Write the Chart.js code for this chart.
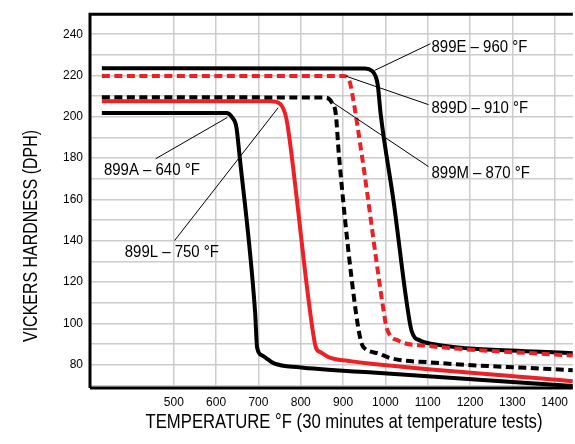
<!DOCTYPE html>
<html><head><meta charset="utf-8">
<script src="https://cdn.jsdelivr.net/npm/chart.js@4"></script>
<style>html,body{margin:0;padding:0;background:#fff}</style>
</head><body>
<canvas id="c" width="575" height="444"></canvas>
<script>
// ---- data (temperature °F, hardness DPH) ----
const temp899A = [330, 624, 638, 648, 655, 692, 697, 709, 737, 796, 961, 1443];
const hard899A = [201.8, 201.8, 199.7, 194.9, 182.0, 105.9, 88.2, 84.4, 80.6, 78.7, 76.3, 69.7];

const temp899L = [330, 730, 751, 765, 772, 822, 836, 848, 867, 921, 961, 1443];
const hard899L = [207.5, 207.5, 206.3, 200.1, 191.6, 105.9, 88.2, 85.9, 83.5, 81.6, 80.6, 72.0];

const temp899M = [330, 859, 874, 883, 890, 930, 944, 953, 984, 1015, 1107, 1443];
const hard899M = [209.5, 209.3, 206.8, 201.1, 182.0, 105.9, 90.1, 87.6, 85.4, 83.0, 81.1, 77.3];

const temp899D = [330, 902, 916, 921, 944, 996, 1003, 1031, 1095, 1443];
const hard899D = [219.8, 219.8, 216.8, 212.0, 182.0, 105.9, 97.8, 91.6, 89.2, 84.4];

const temp899E = [330, 952, 968, 977, 982, 989, 1020, 1050, 1062, 1083, 1107, 1443];
const hard899E = [223.5, 223.4, 222.3, 219.6, 215.4, 201.1, 158.2, 110.6, 96.3, 91.6, 90.2, 85.5];

// axis ticks
const xTickLabels = [500, 600, 700, 800, 900, 1000, 1100, 1200, 1300, 1400];
const yTickLabels = [80, 100, 120, 140, 160, 180, 200, 220, 240];
const yGridValues = [70, 80, 90, 100, 110, 120, 130, 140, 150, 160, 170, 180, 190, 200, 210, 220, 230, 240];

// callouts
const annoText  = ['899E – 960 °F', '899D – 910 °F', '899M – 870 °F', '899A – 640 °F', '899L – 750 °F'];
const annoFromT = [974.8, 906.6, 866.6, 626.6, 746.6];
const annoFromV = [222.5, 219.7, 208.2, 199.7, 204.4];
const annoToT   = [1106.6, 1101.9, 1101.9, 457.2, 501.9];
const annoToV   = [235.4, 205.9, 175.9, 179.7, 140.1];
const annoTextT = [1109, 1109, 1109, 335, 384.2];
const annoTextV = [233.5, 204.0, 172.5, 174.0, 134.4];

const xTitle = 'TEMPERATURE °F (30 minutes at temperature tests)';
const yTitle = 'VICKERS HARDNESS (DPH)';

const RED = '#ec2127';
const REG = '"Liberation Sans", Arial, sans-serif';

function pts(t, v) { return t.map((x, i) => ({x: x, y: v[i]})); }

function ds(label, t, v, color, dashed, order) {
  return {
    label, data: pts(t, v), borderColor: color, borderWidth: 4,
    borderDash: dashed ? [8, 4.5] : [], borderCapStyle: 'butt', borderJoinStyle: 'round',
    pointRadius: 0, fill: false, cubicInterpolationMode: 'monotone', order
  };
}

// draw text horizontally condensed (to mimic a condensed typeface)
function condensedText(ctx, text, x, y, squeeze, align) {
  const w = ctx.measureText(text).width * squeeze;
  ctx.save();
  ctx.translate(align === 'center' ? x - w / 2 : x, y);
  ctx.scale(squeeze, 1);
  ctx.textAlign = 'left';
  ctx.fillText(text, 0, 0);
  ctx.restore();
}

const framePlugin = {
  id: 'frame',
  afterDatasetsDraw(chart) {
    const {ctx, chartArea: a, scales: {x, y}} = chart;
    ctx.save();
    // callouts
    ctx.strokeStyle = '#000'; ctx.lineWidth = 1;
    ctx.fillStyle = '#000';
    ctx.font = '17px ' + REG;
    ctx.textBaseline = 'middle';
    for (let i = 0; i < annoText.length; i++) {
      ctx.beginPath();
      ctx.moveTo(x.getPixelForValue(annoFromT[i]), y.getPixelForValue(annoFromV[i]));
      ctx.lineTo(x.getPixelForValue(annoToT[i]), y.getPixelForValue(annoToV[i]));
      ctx.stroke();
      condensedText(ctx, annoText[i], x.getPixelForValue(annoTextT[i]), y.getPixelForValue(annoTextV[i]), 0.88, 'left');
    }
    // frame
    ctx.lineWidth = 3;
    ctx.beginPath();
    ctx.moveTo(a.left, a.bottom); ctx.lineTo(a.left, a.top); ctx.lineTo(a.right, a.top);
    ctx.moveTo(a.left, a.bottom); ctx.lineTo(a.right, a.bottom);
    ctx.stroke();
    // axis titles
    ctx.font = '21px ' + REG;
    ctx.textBaseline = 'alphabetic';
    condensedText(ctx, xTitle, 344, 428, 0.795, 'center');
    ctx.translate(37, 236);
    ctx.rotate(-Math.PI / 2);
    condensedText(ctx, yTitle, 0, 0, 0.76, 'center');
    ctx.restore();
  }
};

new Chart(document.getElementById('c'), {
  type: 'line',
  data: {
    datasets: [
      ds('899A – 640 °F', temp899A, hard899A, '#000', false, 5),
      ds('899L – 750 °F', temp899L, hard899L, RED, false, 4),
      ds('899M – 870 °F', temp899M, hard899M, '#000', true, 3),
      ds('899E – 960 °F', temp899E, hard899E, '#000', false, 2),
      ds('899D – 910 °F', temp899D, hard899D, RED, true, 1)
    ]
  },
  options: {
    responsive: false, animation: false, devicePixelRatio: 1,
    layout: {padding: {top: 8, right: 0, bottom: 0, left: 0}},
    plugins: {legend: {display: false}, tooltip: {enabled: false}},
    scales: {
      x: {
        type: 'linear', min: 302, max: 1443,
        afterBuildTicks: s => { s.ticks = xTickLabels.map(v => ({value: v})); },
        afterFit: s => { s.height = 56; },
        grid: {color: '#cccccc', lineWidth: 1.5, drawTicks: false},
        border: {display: false},
        ticks: {autoSkip: false, maxRotation: 0, padding: 7, color: '#000',
                font: {family: REG, size: 12},
                callback: v => xTickLabels.includes(v) ? String(v) : ''}
      },
      y: {
        type: 'linear', min: 68.7, max: 249.7,
        afterBuildTicks: s => { s.ticks = yGridValues.map(v => ({value: v})); },
        afterFit: s => { s.width = 90; },
        grid: {color: '#cccccc', lineWidth: 1.5, drawTicks: false},
        border: {display: false},
        ticks: {autoSkip: false, padding: 7, color: '#000',
                font: {family: REG, size: 12},
                callback: v => yTickLabels.includes(v) ? String(v) : ''}
      }
    }
  },
  plugins: [framePlugin]
});
</script>
</body></html>
